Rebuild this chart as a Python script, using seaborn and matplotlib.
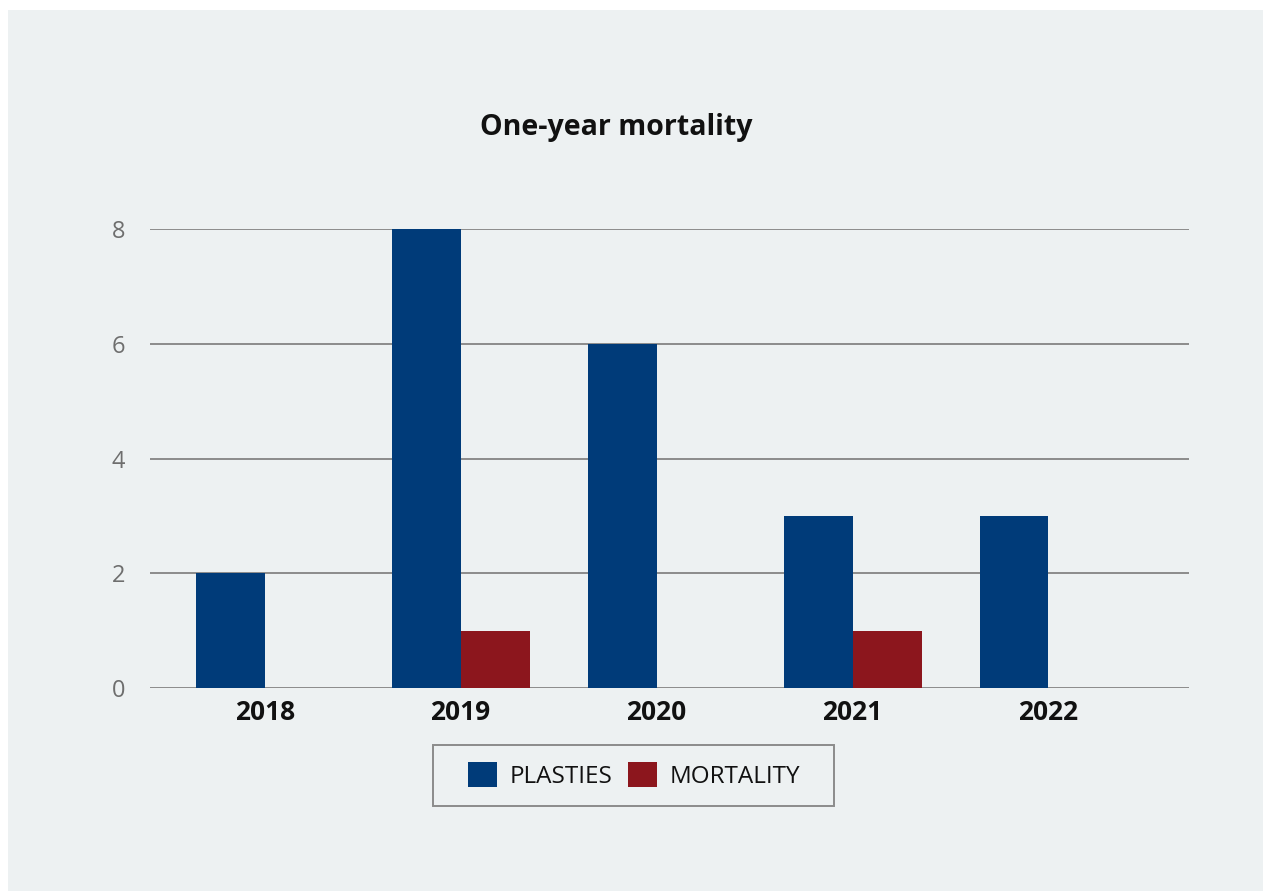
import matplotlib
matplotlib.use("Agg")
import matplotlib.pyplot as plt
import seaborn as sns
import pandas as pd
from matplotlib.patches import Rectangle

years = ["2018", "2019", "2020", "2021", "2022"]
plasties = [2, 8, 6, 3, 3]
mortality = [0, 1, 0, 1, 0]
series_names = ["PLASTIES", "MORTALITY"]
yticks = [0, 2, 4, 6, 8]
title = "One-year mortality"

BG = "#EDF1F2"
BLUE = "#003B79"
RED = "#8C161D"

sns.set_theme(style="white")
plt.rcParams["font.family"] = ["Open Sans", "DejaVu Sans"]

df = pd.DataFrame({
    "year": years * 2,
    "value": plasties + mortality,
    "series": [series_names[0]] * len(years) + [series_names[1]] * len(years),
})

W, H = 1263, 891
fig = plt.figure(figsize=(W / 100, H / 100), dpi=100, facecolor="white")
fig.patches.append(Rectangle((8 / W, 0), 1 - 8 / W, 1 - 10 / H,
                             transform=fig.transFigure, facecolor=BG,
                             edgecolor="none", zorder=-10))

ax = fig.add_axes([150 / W, (H - 688) / H, (1189 - 150) / W, (688 - 229) / H])
ax.set_facecolor("none")

sns.barplot(data=df, x="year", y="value", hue="series", order=years,
            hue_order=series_names, palette=[BLUE, RED], width=0.704,
            gap=0, saturation=1, errorbar=None, ax=ax, legend=True,
            edgecolor="none", linewidth=0, zorder=3)

ax.set_xlim(-0.585, 4.717)
ax.set_ylim(0, 8)
ax.set_yticks(yticks)
ax.set_yticklabels([str(t) for t in yticks])
ax.yaxis.grid(True, color="#8C8C8C", linewidth=1.4)
ax.set_axisbelow(True)
for s in ax.spines.values():
    s.set_visible(False)
ax.tick_params(axis="y", length=0, pad=18, labelsize=17, labelcolor="#6E6E6E")
ax.tick_params(axis="x", length=0, pad=8, labelsize=19)
for lbl in ax.get_xticklabels():
    lbl.set_fontweight("bold")
    lbl.set_color("#111111")
ax.set_xlabel("")
ax.set_ylabel("")

fig.text(616 / W, (H - 128) / H, title, ha="center", va="center",
         fontsize=20.5, fontweight="bold", color="#111111")

handles, labels = ax.get_legend_handles_labels()
ax.legend_.remove()
# legend frame
fig.patches.append(Rectangle((433 / W, (H - 806) / H), (834 - 433) / W, (806 - 745) / H,
                             transform=fig.transFigure, facecolor=BG,
                             edgecolor="#8C8C8C", linewidth=1.4, zorder=1))
leg = fig.legend(handles, labels, loc="center", bbox_to_anchor=(634 / W, (H - 775.5) / H),
                 ncol=2, frameon=False, fontsize=17.5,
                 handlelength=1.2, handleheight=1.2, handletextpad=0.5,
                 columnspacing=0.65, borderpad=0.5, borderaxespad=0)
for t in leg.get_texts():
    t.set_color("#111111")

fig.savefig("out.png", dpi=100, facecolor="white")
